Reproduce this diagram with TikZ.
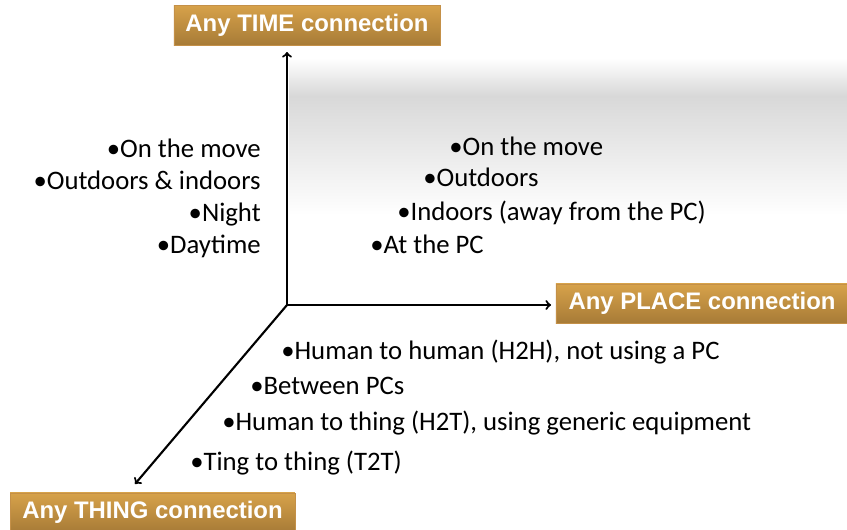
\documentclass[tikz,border=0pt]{standalone}
\usepackage{fontspec}
\setmainfont{Carlito}
\newfontfamily\boxfont{Liberation Sans}
\usetikzlibrary{arrows}

\begin{document}
\begin{tikzpicture}[x=0.025cm,y=-0.025cm,line cap=round]
% Colors
\definecolor{boxtop}{HTML}{D7A24A}
\definecolor{boxbottom}{HTML}{A77B37}
\definecolor{boxedge}{HTML}{C49048}
\definecolor{shadowgray}{HTML}{D8D8D8}
% Styles
\tikzstyle{axis line}=[line width=1.5pt,->,>=to]
\tikzstyle{axis box}=[top color=boxtop,bottom color=boxbottom,draw=boxedge,inner sep=0pt,
  text=white,font=\boxfont\bfseries\fontsize{17}{20}\selectfont]
\tikzstyle{item text}=[inner sep=0pt,font=\fontsize{19}{22}\selectfont]
% Page
\useasboundingbox (0,0) rectangle (847,529);
\shade[top color=white,bottom color=shadowgray] (289,58) rectangle (847,96);
\shade[top color=shadowgray,bottom color=white] (289,96) rectangle (847,215);
% Axes
\coordinate (origin) at (287,305);
\coordinate (time tip) at (287,52);
\coordinate (place tip) at (551,305);
\coordinate (thing tip) at (135,484);
\draw[axis line] (origin) -- (time tip);
\draw[axis line] (origin) -- (place tip);
\draw[axis line] (origin) -- (thing tip);
% Titles
\node[axis box,minimum width=6.65cm,minimum height=1cm] (time) at (307,25) {Any TIME connection};
\node[axis box,minimum width=7.3cm,minimum height=0.98cm] (place) at (702,303.5) {Any PLACE connection};
\node[axis box,minimum width=7.12cm,minimum height=0.98cm] (thing) at (152.5,512.5) {Any THING connection};
% Time items
\foreach \y/\txt in {154/On the move, 186/Outdoors \& indoors, 218/Night, 250/Daytime}
  \node[item text,anchor=mid east] (time\y) at (261,\y) {•\txt};
% Place items
\foreach \x/\y/\txt in {449/152/On the move, 423/183/Outdoors,
  397/217/{Indoors (away from the PC)}, 370/250/At the PC}
  \node[item text,anchor=mid west] (place\y) at (\x,\y) {•\txt};
% Thing items
\foreach \x/\y/\txt in {281/356/{Human to human (H2H), not using a PC}, 250/391/Between PCs,
  222/427/{Human to thing (H2T), using generic equipment}, 190/467/{Ting to thing (T2T)}}
  \node[item text,anchor=mid west] (thing\y) at (\x,\y) {•\txt};
\end{tikzpicture}
\end{document}
